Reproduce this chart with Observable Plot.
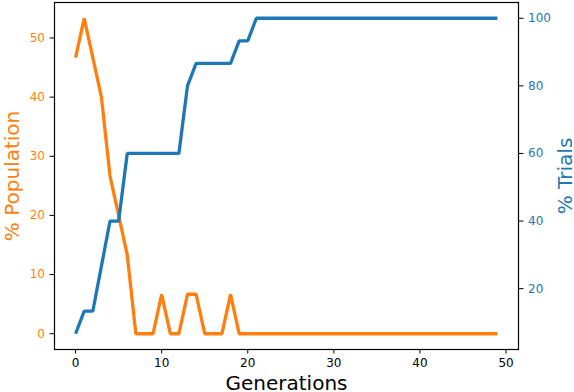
<!DOCTYPE html>
<html><head><meta charset="utf-8">
<script src="https://cdn.jsdelivr.net/npm/d3@7"></script>
<script src="https://cdn.jsdelivr.net/npm/@observablehq/plot@0.6"></script>
<style>body{margin:0;background:#fff}</style>
</head><body><div id="chart"></div>
<script>
const generations = [0,1,2,3,4,5,6,7,8,9,10,11,12,13,14,15,16,17,18,19,20,21,22,23,24,25,26,27,28,29,30,31,32,33,34,35,36,37,38,39,40,41,42,43,44,45,46,47,48,49];
const population = [46.67,53.33,46.67,40,26.67,20,13.33,0,0,0,6.67,0,0,6.67,6.67,0,0,0,6.67,0,0,0,0,0,0,0,0,0,0,0,0,0,0,0,0,0,0,0,0,0,0,0,0,0,0,0,0,0,0,0];
const trials = [6.67,13.33,13.33,26.67,40,40,60,60,60,60,60,60,60,80,86.67,86.67,86.67,86.67,86.67,93.33,93.33,100,100,100,100,100,100,100,100,100,100,100,100,100,100,100,100,100,100,100,100,100,100,100,100,100,100,100,100,100];
const xTicks = [0,10,20,30,40,50];
const leftTicks = [0,10,20,30,40,50];
const rightTicks = [20,40,60,80,100];

const orange = "#ff7f0e", blue = "#1f77b4";
const L0 = -2.667, L1 = 56.0, R0 = 2.0, R1 = 104.667;
const toLeft = v => L0 + (v - R0) * (L1 - L0) / (R1 - R0);
const fromLeft = v => R0 + (v - L0) * (R1 - R0) / (L1 - L0);

const popData = generations.map((g, i) => ({g, v: population[i]}));
const trialData = generations.map((g, i) => ({g, v: toLeft(trials[i])}));

const chart = Plot.plot({
  width: 574, height: 392,
  marginLeft: 54, marginRight: 56, marginTop: 2, marginBottom: 43,
  style: {fontFamily: "DejaVu Sans", fontSize: "12px", background: "white", color: "black"},
  x: {domain: [-2.45, 51.45], label: null},
  y: {domain: [L0, L1], label: null},
  marks: [
    Plot.line(popData, {x: "g", y: "v", stroke: orange, strokeWidth: 3.3, strokeLinejoin: "miter", strokeLinecap: "butt"}),
    Plot.line(trialData, {x: "g", y: "v", stroke: blue, strokeWidth: 3.3, strokeLinejoin: "miter", strokeLinecap: "butt"}),
    Plot.frame({stroke: "black", strokeWidth: 1.2}),
    Plot.axisX(xTicks, {anchor: "bottom", tickSize: 4.5, tickPadding: 4, stroke: "black", fill: "black", fontSize: 12, label: null}),
    Plot.axisY(leftTicks, {anchor: "left", tickSize: 4.5, tickPadding: 5, stroke: "black", fill: orange, fontSize: 12, label: null}),
    Plot.axisY(rightTicks.map(toLeft), {anchor: "right", tickSize: 4.5, tickPadding: 5, stroke: "black", fill: blue, fontSize: 12, label: null, tickFormat: d => String(Math.round(fromLeft(d)))}),
    Plot.text(["% Population"], {text: d => d, frameAnchor: "left", dx: -42, rotate: -90, textAnchor: "middle", lineAnchor: "middle", fontSize: 20, fill: orange}),
    Plot.text(["% Trials"], {text: d => d, frameAnchor: "right", dx: 47, rotate: -90, textAnchor: "middle", lineAnchor: "middle", fontSize: 20, fill: blue}),
    Plot.text(["Generations"], {text: d => d, frameAnchor: "bottom", dy: 34, textAnchor: "middle", lineAnchor: "middle", fontSize: 20, fill: "black"})
  ]
});
document.getElementById("chart").appendChild(chart);
</script>
</body></html>
